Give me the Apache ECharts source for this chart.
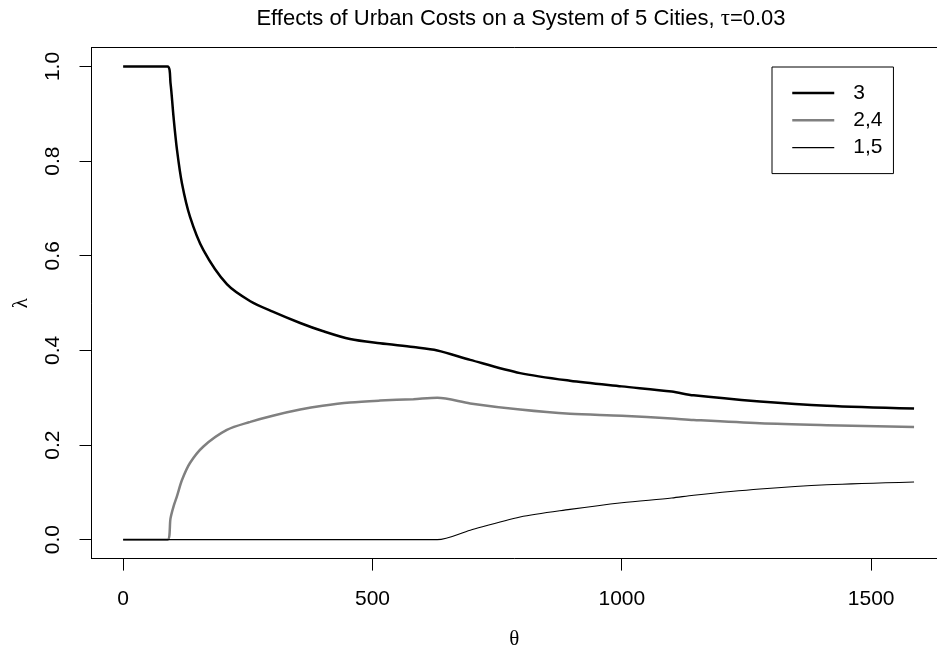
<!DOCTYPE html>
<html>
<head>
<meta charset="utf-8">
<script src="https://cdn.jsdelivr.net/npm/echarts@6/dist/echarts.min.js"></script>
<style>html,body{margin:0;padding:0;background:#fff}#c{width:937px;height:655px}</style>
</head>
<body>
<div id="c"></div>
<script>
// ---- data ----
const theta = [0, 89, 95, 101, 108, 118, 134, 161, 208, 255, 300, 355, 400, 455, 515, 582, 630, 696, 796, 896, 1000, 1100, 1144, 1277, 1411, 1586];
const city3 = [1.0, 1.0, 0.965, 0.894, 0.824, 0.753, 0.683, 0.612, 0.540, 0.504, 0.482, 0.458, 0.441, 0.424, 0.415, 0.407, 0.400, 0.380, 0.352, 0.336, 0.324, 0.313, 0.305, 0.292, 0.283, 0.277];
const city24 = [0, 0, 0.045, 0.070, 0.092, 0.126, 0.162, 0.197, 0.232, 0.249, 0.262, 0.275, 0.283, 0.290, 0.294, 0.297, 0.300, 0.288, 0.275, 0.266, 0.262, 0.256, 0.253, 0.246, 0.242, 0.238];
const city15 = [0, 0, 0, 0, 0, 0, 0, 0, 0, 0, 0, 0, 0, 0, 0, 0, 0, 0.020, 0.048, 0.064, 0.078, 0.088, 0.094, 0.107, 0.116, 0.122];
const seriesNames = ['3', '2,4', '1,5'];
const xTicks = [0, 500, 1000, 1500];
const yTicks = [0, 0.2, 0.4, 0.6, 0.8, 1.0];

const pairs = (ys) => theta.map((t, i) => [t, ys[i]]);
const sans = 'Liberation Sans, Arial, Helvetica, sans-serif';
const serif = 'Liberation Serif, DejaVu Serif, serif';
const FS = 21;
const black = {color: '#000', width: 1};
const X_MIN = -63.44, X_MAX = 1632, Y_MIN = -0.04, Y_MAX = 1.04;

const chart = echarts.init(document.getElementById('c'), null, {renderer: 'canvas'});
chart.setOption({
  animation: false,
  backgroundColor: '#ffffff',
  title: {
    text: 'Effects of Urban Costs on a System of 5 Cities, {g|τ}=0.03',
    left: 516, top: 2, textAlign: 'center',
    textStyle: {fontFamily: sans, fontSize: 22, fontWeight: 'normal', color: '#000',
      rich: {g: {fontFamily: serif, fontSize: 23, color: '#000'}}}
  },
  legend: {
    orient: 'vertical', left: 772, top: 67,
    padding: [15, 11, 15, 19],
    borderColor: '#000', borderWidth: 1,
    itemWidth: 42, itemHeight: 14, itemGap: 5.3,
    itemStyle: {opacity: 0},
    data: [
      {name: seriesNames[0], lineStyle: {width: 2.5, color: '#000'}},
      {name: seriesNames[1], lineStyle: {width: 2.5, color: '#808080'}},
      {name: seriesNames[2], lineStyle: {width: 1.1, color: '#000'}}
    ],
    textStyle: {fontFamily: sans, fontSize: FS, color: '#000', lineHeight: 22, padding: [0, 0, 0, 14]}
  },
  grid: {left: 91.5, right: 0, top: 47.6, bottom: 96.4, show: false},
  xAxis: [{
    type: 'value', min: X_MIN, max: X_MAX,
    name: 'θ', nameLocation: 'middle', nameGap: 70,
    nameTextStyle: {fontFamily: serif, fontSize: 21, color: '#000'},
    axisLine: {show: true, onZero: false, lineStyle: black},
    splitLine: {show: false},
    axisTick: {show: false, customValues: xTicks},
    axisLabel: {customValues: xTicks, margin: 30, fontFamily: sans, fontSize: FS, color: '#000',
      formatter: (v) => String(v)}
  }, {
    type: 'value', min: 0, max: 1, position: 'top',
    axisLine: {show: true, onZero: false, lineStyle: black},
    axisTick: {show: false}, axisLabel: {show: false}, splitLine: {show: false}
  }],
  yAxis: [{
    type: 'value', min: Y_MIN, max: Y_MAX,
    name: 'λ', nameLocation: 'middle', nameGap: 60,
    nameTextStyle: {fontFamily: serif, fontSize: 21, color: '#000'},
    axisLine: {show: true, onZero: false, lineStyle: black},
    splitLine: {show: false},
    axisTick: {show: false, customValues: yTicks},
    axisLabel: {customValues: yTicks, margin: 28, rotate: 90, fontFamily: sans, fontSize: FS, color: '#000',
      formatter: (v) => v.toFixed(1)}
  }],
  series: [
    {name: seriesNames[0], type: 'line', data: pairs(city3), showSymbol: false, symbol: 'none',
      smooth: 0.3,
      lineStyle: {color: '#000', width: 2.5}, itemStyle: {color: '#000'}},
    {name: seriesNames[1], type: 'line', data: pairs(city24), showSymbol: false, symbol: 'none',
      smooth: 0.3,
      lineStyle: {color: '#808080', width: 2.5}, itemStyle: {color: '#808080'}},
    {name: seriesNames[2], type: 'line', data: pairs(city15), showSymbol: false, symbol: 'none',
      smooth: 0.3,
      lineStyle: {color: '#000', width: 1.1}, itemStyle: {color: '#000'}}
  ]
});

// outward tick marks placed through the chart's own axis scales
const crisp = (v) => Math.round(v - 0.5) + 0.5;
const bottomY = chart.convertToPixel({yAxisIndex: 0}, Y_MIN);
const leftX = chart.convertToPixel({xAxisIndex: 0}, X_MIN);
const TL = 12;
const tickEls = [];
xTicks.forEach((v) => {
  const x = crisp(chart.convertToPixel({xAxisIndex: 0}, v));
  tickEls.push({type: 'line', silent: true, shape: {x1: x, y1: bottomY, x2: x, y2: bottomY + TL}, style: {stroke: '#000', lineWidth: 1}});
});
yTicks.forEach((v) => {
  const y = crisp(chart.convertToPixel({yAxisIndex: 0}, v));
  tickEls.push({type: 'line', silent: true, shape: {x1: leftX - TL, y1: y, x2: leftX, y2: y}, style: {stroke: '#000', lineWidth: 1}});
});
chart.setOption({graphic: tickEls});
</script>
</body>
</html>
